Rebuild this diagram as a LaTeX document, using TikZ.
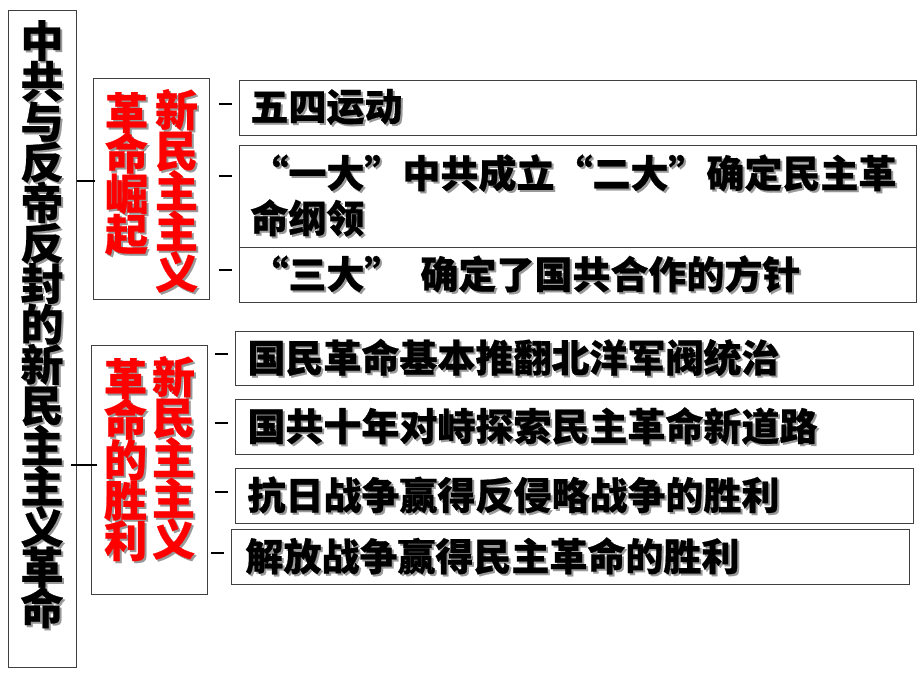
\documentclass[tikz,border=0pt]{standalone}
\usepackage{fontspec}
\setmainfont{Noto Sans CJK SC}[BoldFeatures={FakeBold=0.6}]
\newcommand\shd[1]{\leavevmode\rlap{\kern2pt\raisebox{-2pt}{\textcolor{black!40}{#1}}}#1}
\newcommand\vfontset{\bfseries\fontsize{43}{40.5}\selectfont\lineskiplimit=-100pt\relax}
\begin{document}
\begin{tikzpicture}[x=1pt,y=-1pt,
  frame/.style={draw=black!75, line width=0.9pt},
  item/.style={frame, anchor=north west, inner xsep=11pt, inner ysep=0pt, align=left,
    font={\bfseries\fontsize{38}{45}\selectfont}},
  vtext/.style={inner sep=0pt, align=center, anchor=north, font={\vfontset}},
  link/.style={line width=2pt},
  stub/.style={line width=1.8pt}]
\useasboundingbox (0,0) rectangle (920,690);
\fill[white] (0,0) rectangle (920,690);

% outer box
\node[frame, anchor=north west, minimum width=68pt, minimum height=657pt, inner sep=0pt] (outer) at (8,10) {};
\node[vtext] (outt) at (42,20) {\shd{中}\\\shd{共}\\\shd{与}\\\shd{反}\\\shd{帝}\\\shd{反}\\\shd{封}\\\shd{的}\\\shd{新}\\\shd{民}\\\shd{主}\\\shd{主}\\\shd{义}\\\shd{革}\\\shd{命}};

% group boxes
\node[frame, anchor=north west, minimum width=116pt, minimum height=221pt, inner sep=0pt] (g1) at (93,78) {};
\node[vtext, text=red] (r1a) at (126.5,92) {\shd{革}\\\shd{命}\\\shd{崛}\\\shd{起}};
\node[vtext, text=red] (r1b) at (176.5,89) {\shd{新}\\\shd{民}\\\shd{主}\\\shd{主}\\\shd{义}};

\node[frame, anchor=north west, minimum width=116pt, minimum height=249pt, inner sep=0pt] (g2) at (91,345) {};
\node[vtext, text=red] (r2a) at (125.5,358) {\shd{革}\\\shd{命}\\\shd{的}\\\shd{胜}\\\shd{利}};
\node[vtext, text=red] (r2b) at (173.5,356) {\shd{新}\\\shd{民}\\\shd{主}\\\shd{主}\\\shd{义}};

% item boxes
\node[item, text width=655pt, minimum height=55pt] (a) at (239,80) {\shd{五四运动}};
\node[item, text width=655pt, minimum height=102pt] (b) at (239,145) {\shd{“一大”中共成立“二大”确定民主革}\\\shd{命纲领}};
\node[item, text width=655pt, minimum height=55pt] (c) at (239,247) {\shd{“三大”}\hspace{18pt}\shd{确定了国共合作的方针}};

\node[item, inner xsep=12pt, text width=654pt, minimum height=54pt] (d) at (235,331) {\shd{国民革命基本推翻北洋军阀统治}};
\node[item, inner xsep=12pt, text width=654pt, minimum height=55pt] (e) at (235,399) {\shd{国共十年对峙探索民主革命新道路}};
\node[item, inner xsep=12pt, text width=654pt, minimum height=55pt] (f) at (235,468) {\shd{抗日战争赢得反侵略战争的胜利}};
\node[item, inner xsep=14pt, text width=650pt, minimum height=55pt] (g) at (231,529) {\shd{解放战争赢得民主革命的胜利}};

% connectors
\coordinate (j1) at (0,181);
\coordinate (j2) at (0,465);
\draw[link] (outer.east |- j1) -- ([xshift=2pt]g1.west |- j1);
\draw[link] ([xshift=-6pt]outer.east |- j2) -- ([xshift=6pt]g2.west |- j2);

\coordinate (s1) at (0,104);
\coordinate (s2) at (0,176);
\coordinate (s3) at (0,270);
\coordinate (s4) at (0,354);
\coordinate (s5) at (0,423);
\coordinate (s6) at (0,492);
\coordinate (s7) at (0,553);
\draw[stub, shorten <=9pt, shorten >=7pt] (g1.east |- s1) -- (a.west |- s1);
\draw[stub, shorten <=9pt, shorten >=7pt] (g1.east |- s2) -- (b.west |- s2);
\draw[stub, shorten <=9pt, shorten >=7pt] (g1.east |- s3) -- (c.west |- s3);
\draw[stub, shorten <=7pt, shorten >=7pt] (g2.east |- s4) -- (d.west |- s4);
\draw[stub, shorten <=7pt, shorten >=7pt] (g2.east |- s5) -- (e.west |- s5);
\draw[stub, shorten <=7pt, shorten >=7pt] (g2.east |- s6) -- (f.west |- s6);
\draw[stub, shorten <=3pt, shorten >=7pt] (g2.east |- s7) -- (g.west |- s7);
\end{tikzpicture}
\end{document}
